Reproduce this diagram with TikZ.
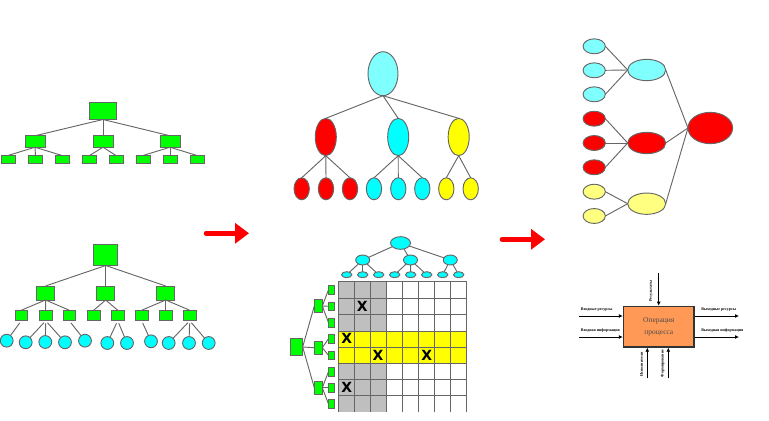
\documentclass[tikz,border=0pt]{standalone}
\usepackage{fontspec}
\setmainfont{Liberation Serif}
\setsansfont{DejaVu Sans}
\usetikzlibrary{arrows.meta}
\usetikzlibrary{shapes.geometric}
\definecolor{palecyan}{HTML}{80FFFF}
\definecolor{paleyellow}{HTML}{FFFF80}
\definecolor{brightcyan}{HTML}{00FFFF}
\definecolor{brightred}{HTML}{FF0000}
\definecolor{brightgreen}{HTML}{00FF00}
\definecolor{brightyellow}{HTML}{FFFF00}
\definecolor{boxorange}{HTML}{FF9955}
\definecolor{linegray}{HTML}{666666}
\tikzset{
	box/.style={draw=linegray, fill=brightgreen, line width=0.7pt, inner sep=0, outer sep=0, minimum width=#1},
	oval/.style={draw=linegray, ellipse, line width=0.7pt, inner sep=0, outer sep=0},
	link/.style={draw=linegray, line width=0.7pt},
	flow/.style={draw=black, line width=0.7pt, -{Latex[length=3pt,width=3pt]}},
	tiny/.style={font=\fontsize{3}{4}\selectfont\bfseries, inner sep=0},
	cross/.style={font=\sffamily\bfseries\fontsize{10.5}{11}\selectfont, inner sep=0},
	bigarrow/.style={draw=brightred, line width=3.4pt, line cap=round, -{Triangle[length=10.5pt,width=15pt]}}
}

\begin{document}
\begin{tikzpicture}[x=0.75pt, y=-0.75pt]
	\useasboundingbox (0,0) rectangle (769,421);

	% first tree
	\node[box=20.25pt, minimum height=12.75pt] (a) at (103,111) {};
	\foreach \name/\x in {a1/35, a2/103, a3/170}
		\node[box=15pt, minimum height=8.6pt] (\name) at (\x,141.5) {};
	\foreach \name/\x in {a11/8, a12/35.5, a13/62, a21/89.5, a22/116, a31/143, a32/170, a33/197}
		\node[box=10.5pt, minimum height=6pt] (\name) at (\x,159.5) {};
	\foreach \from/\to in {a/a1, a/a2, a/a3, a1/a11, a1/a12, a1/a13, a2/a21, a2/a22, a3/a31, a3/a32, a3/a33}
		\draw[link] (\from.south) -- (\to.north);

	% second tree, with the round leaves
	\node[box=18pt, minimum height=15.75pt] (b) at (105.7,255) {};
	\foreach \name/\x in {b1/45.5, b2/105.7, b3/165.7}
		\node[box=13.5pt, minimum height=10.5pt] (\name) at (\x,293) {};
	\foreach \name/\x in {b11/21.3, b12/45.7, b13/69.3, b21/93.7, b22/117.7, b31/141.7, b32/165.7, b33/189.7}
		\node[box=9.4pt, minimum height=7.9pt] (\name) at (\x,315.5) {};
	\foreach \from/\to in {b/b1, b/b2, b/b3, b1/b11, b1/b12, b1/b13, b2/b21, b2/b22, b3/b31, b3/b32, b3/b33}
		\draw[link] (\from.south) -- (\to.north);
	\foreach \name/\x/\y in {c1/6.7/340.7, c2/25.7/342.3, c3/45.3/342, c4/65/342.3, c5/85/340.7, c6/107.3/343, c7/127/343, c8/151/341.3, c9/168.7/343, c10/189/343, c11/208.7/343}
		\node[oval, fill=brightcyan, minimum width=9.6pt, minimum height=9.6pt] (\name) at (\x,\y) {};
	\foreach \from/\to in {b11/c1, b12/c2, b12/c3, b12/c4, b13/c5, b22/c6, b22/c7, b31/c8, b33/c9, b33/c10, b33/c11}
		\draw[link, shorten <=2pt] (\from.south) -- (\to);

	% arrows between the columns
	\coordinate (p1) at (206,233.3);
	\coordinate (p2) at (249,233.3);
	\coordinate (q1) at (502,239.3);
	\coordinate (q2) at (545,239.3);
	\draw[bigarrow] (p1) -- (p2);
	\draw[bigarrow] (q1) -- (q2);

	% coloured ovals
	\node[oval, fill=palecyan, minimum width=22.5pt, minimum height=33pt] (m) at (383,73.7) {};
	\node[oval, fill=brightred, minimum width=15.8pt, minimum height=28pt] (m1) at (325.8,137) {};
	\node[oval, fill=brightcyan, minimum width=15.8pt, minimum height=28pt] (m2) at (398.2,137) {};
	\node[oval, fill=brightyellow, minimum width=15.8pt, minimum height=28pt] (m3) at (458.7,137) {};
	\foreach \name/\x/\col in {m11/301.7/brightred, m12/326/brightred, m13/350/brightred, m21/374/brightcyan, m22/398.3/brightcyan, m23/422.3/brightcyan, m31/446.3/brightyellow, m32/470.7/brightyellow}
		\node[oval, fill=\col, minimum width=11.5pt, minimum height=16.5pt] (\name) at (\x,188.8) {};
	\foreach \from/\to in {m/m1, m/m2, m/m3}
		\draw[link] (\from.south) -- (\to.north);
	\foreach \from/\to in {m1/m11, m1/m12, m1/m13, m2/m21, m2/m22, m2/m23, m3/m31, m3/m32}
		\draw[link] (\from.south) -- (\to.north);

	% matrix
	\fill[black!25] (338.7,281) rectangle (386.7,331);
	\fill[black!25] (338.7,363.7) rectangle (386.7,411.7);
	\fill[brightyellow] (338.7,331) rectangle (466.7,363.7);
	\foreach \x in {338.7, 354.7, 370.7, 386.7, 402.7, 418.7, 434.7, 450.7, 466.7}
		\draw[linegray, line width=0.6pt] (\x,281) -- (\x,411.7);
	\foreach \y in {281, 298.3, 314.7, 331, 347.3, 363.7, 379.7, 395.7}
		\draw[linegray, line width=0.6pt] (338.7,\y) -- (466.7,\y);
	\foreach \name/\x/\y in {x1/362.3/306.3, x2/346.7/338.7, x3/378/355.3, x4/426.7/355.3, x5/346.7/387.7}
		\node[cross] (\name) at (\x,\y) {X};

	% tree above the matrix
	\node[oval, fill=brightcyan, minimum width=15pt, minimum height=9.5pt] (t) at (400.5,243) {};
	\foreach \name/\x in {t1/362.7, t2/410.5, t3/450.3}
		\node[oval, fill=brightcyan, minimum width=10.5pt, minimum height=7.5pt] (\name) at (\x,260) {};
	\foreach \name/\x in {t11/346.7, t12/362.7, t13/378.7, t21/394.7, t22/410.7, t23/426.7, t31/442.7, t32/458.7}
		\node[oval, fill=brightcyan, minimum width=7.7pt, minimum height=4.5pt] (\name) at (\x,274.7) {};
	\foreach \from/\to in {t/t1, t/t2, t/t3, t1/t11, t1/t12, t1/t13, t2/t21, t2/t22, t2/t23, t3/t31, t3/t32}
		\draw[link] (\from) -- (\to);

	% tree left of the matrix
	\node[box=8.8pt, minimum height=13pt] (l) at (296.8,347) {};
	\foreach \name/\y in {l1/306, l2/347.7, l3/387.7}
		\node[box=6pt, minimum height=9.4pt] (\name) at (318.3,\y) {};
	\foreach \name/\y in {l11/289.7, l12/306.3, l13/322.7, l21/338.7, l22/355.3, l31/371.7, l32/387.7, l33/404}
		\node[box=4.5pt, minimum height=6.4pt] (\name) at (331.5,\y) {};
	\foreach \from/\to in {l/l1, l/l2, l/l3, l1/l11, l1/l12, l1/l13, l2/l21, l2/l22, l3/l31, l3/l32, l3/l33}
		\draw[link] (\from.east) -- (\to.west);

	% sideways tree
	\node[oval, fill=brightred, minimum width=33.5pt, minimum height=23.5pt] (r) at (710.3,128) {};
	\foreach \name/\y/\col in {r1/70/palecyan, r2/143/brightred, r3/203.7/paleyellow}
		\node[oval, fill=\col, minimum width=28.5pt, minimum height=16pt] (\name) at (646.7,\y) {};
	\foreach \name/\y/\col in {r11/46.3/palecyan, r12/70.3/palecyan, r13/94.3/palecyan, r21/118.7/brightred, r22/143/brightred, r23/167.3/brightred, r31/191.7/paleyellow, r32/216/paleyellow}
		\node[oval, fill=\col, minimum width=16.7pt, minimum height=11.2pt] (\name) at (594.2,\y) {};
	\foreach \from/\to in {r1/r, r2/r, r3/r}
		\draw[link] (\from.east) -- (\to.west);
	\foreach \from/\to in {r11/r1, r12/r1, r13/r1, r21/r2, r22/r2, r23/r2, r31/r3, r32/r3}
		\draw[link] (\from.east) -- (\to.west);

	% operation box
	\node[draw=black!80, fill=boxorange, line width=1pt, minimum width=53pt, minimum height=30.5pt, inner sep=0, align=center, text=black!70, font=\fontsize{5.6}{8.6}\selectfont] (op) at (658.8,326.7) {Операция\\процесса};
	\coordinate (in1) at (579,316);
	\coordinate (in2) at (579,337);
	\coordinate (out1) at (739,316);
	\coordinate (out2) at (739,337);
	\coordinate (top) at (658.7,273);
	\coordinate (bot1) at (647.3,378.3);
	\coordinate (bot2) at (668.3,378.3);
	\draw[flow] (in1) -- (in1 -| op.west);
	\draw[flow] (in2) -- (in2 -| op.west);
	\draw[flow] (out1 -| op.east) -- (out1);
	\draw[flow] (out2 -| op.east) -- (out2);
	\draw[flow] (top) -- (top |- op.north);
	\draw[flow] (bot1) -- (bot1 |- op.south);
	\draw[flow] (bot2) -- (bot2 |- op.south);
	\node[tiny, anchor=west] (t1l) at (580.7,309.3) {Входные ресурсы};
	\node[tiny, anchor=west] (t2l) at (580.7,330.7) {Входная информация};
	\node[tiny, anchor=west] (t3l) at (701,309.3) {Выходные ресурсы};
	\node[tiny, anchor=west] (t4l) at (701,330.7) {Выходная информация};
	\node[tiny, rotate=90] (t5l) at (651,291) {Результаты};
	\node[tiny, rotate=90] (t6l) at (641.7,364.5) {Исполнители};
	\node[tiny, rotate=90] (t7l) at (662.7,363.5) {Формирование};
\end{tikzpicture}
\end{document}
